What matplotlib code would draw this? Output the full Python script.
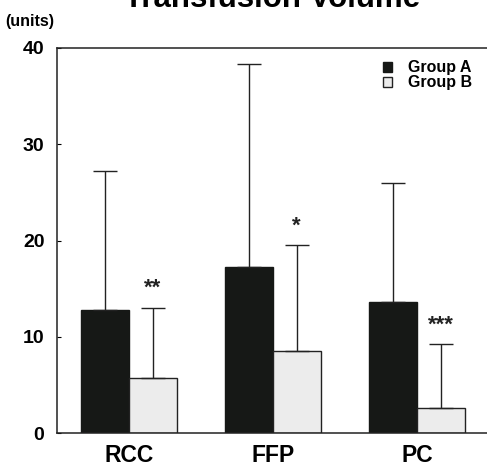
import matplotlib
matplotlib.use('Agg')
import matplotlib.pyplot as plt
import numpy as np

plt.rcParams['font.family'] = ['Liberation Sans', 'DejaVu Sans']
plt.rcParams['font.weight'] = 'bold'

categories = ['RCC', 'FFP', 'PC']
group_a = [12.8, 17.2, 13.6]
sd_a = [14.4, 21.1, 12.4]
group_b = [5.7, 8.5, 2.6]
sd_b = [7.3, 11.0, 6.65]
stars = ['**', '*', '***']
y_ticks = [0, 10, 20, 30, 40]

fig = plt.figure(figsize=(4.87, 4.67), dpi=100)
ax = fig.add_axes([57 / 487, 1 - 433 / 467, 432 / 487, 385 / 467])

x = np.arange(len(categories))
w = 0.33
err_kw = dict(ecolor='#222222', elinewidth=1.0, capsize=8.5, capthick=1.0)
ax.bar(x - w / 2, group_a, w, color='#161816', edgecolor='#161816', linewidth=1,
       yerr=[np.zeros(3), sd_a], error_kw=err_kw, label='Group A', zorder=2)
ax.bar(x + w / 2, group_b, w, color='#ececec', edgecolor='#222222', linewidth=1,
       yerr=[np.zeros(3), sd_b], error_kw=err_kw, label='Group B', zorder=2)

# significance marks above group B error bars
for i, s in enumerate(stars):
    ax.text(x[i] + w / 2, group_b[i] + sd_b[i] + 2.0, s, ha='center', va='center',
            fontsize=16, fontweight='bold', color='#222222')

ax.set_xlim(-0.5, 2.5)
ax.set_ylim(0, 40)
ax.set_yticks(y_ticks)
ax.set_xticks(x)
ax.set_xticklabels(categories, fontsize=16.5, fontweight='bold')
ax.tick_params(axis='x', length=0, pad=8)
ax.tick_params(axis='y', direction='in', length=3, labelsize=14, pad=9)
for lab in ax.get_yticklabels():
    lab.set_fontweight('bold')
ax.spines['right'].set_visible(False)
for sp in ['left', 'top', 'bottom']:
    ax.spines[sp].set_linewidth(1.1)
    ax.spines[sp].set_color('#222222')

ax.legend(loc='upper right', bbox_to_anchor=(0.995, 1.005), frameon=False,
          handlelength=0.6, handleheight=0.6, handletextpad=1.0,
          labelspacing=0.0, prop={'weight': 'bold', 'size': 11.5})

fig.text(5 / 487, 1 - 26 / 467, '(units)', fontsize=11.5, fontweight='bold',
         ha='left', va='baseline')
fig.text(272 / 487, 1 - 7 / 467, 'Transfusion Volume', fontsize=22.5, fontweight='bold',
         ha='center', va='baseline')

fig.savefig('out.png', dpi=100)
